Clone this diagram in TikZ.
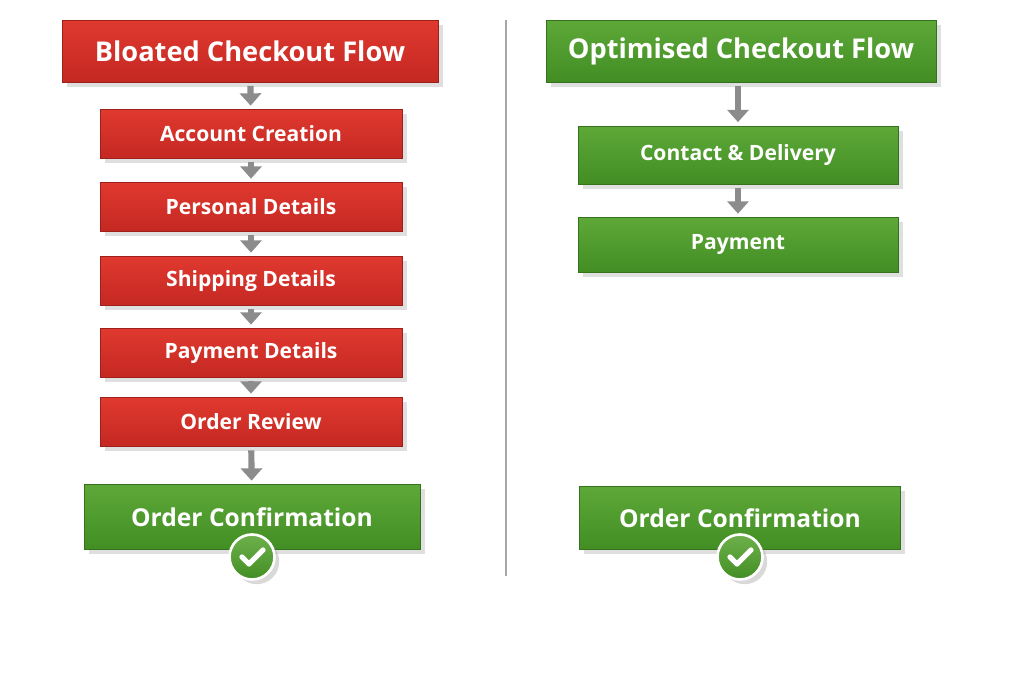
\documentclass[tikz,border=0pt]{standalone}
\usepackage{fontspec}
\setmainfont{Open Sans}
\usetikzlibrary{shapes, arrows.meta, positioning, calc, shadows}
\usepackage{xcolor}
\definecolor{redtop}{HTML}{E0392F}
\definecolor{redbot}{HTML}{C42822}
\definecolor{greentop}{HTML}{5EA838}
\definecolor{greenbot}{HTML}{428E24}
\definecolor{arrowgray}{HTML}{8C8C8C}

\begin{document}
\begin{tikzpicture}[x=0.02cm, y=-0.02cm,
        redbox/.style={rectangle, top color=redtop, bottom color=redbot, draw=redbot!80!black, text=white, font=\bfseries\fontsize{12}{14}\selectfont, minimum width=6.04cm, minimum height=0.98cm, drop shadow={opacity=0.25}},
        greenbox/.style={redbox, top color=greentop, bottom color=greenbot, draw=greenbot!80!black},
        titlebox/.style={minimum height=1.24cm, font=\bfseries\fontsize{15.5}{18}\selectfont},
        flow/.style={-{Triangle[length=7pt, width=12pt]}, line width=3.5pt, arrowgray, shorten <=2pt, shorten >=2pt},
        checkmark/.style={circle, draw=white, line width=1.5pt, top color=greentop!90!white, bottom color=greenbot, minimum size=0.9cm, drop shadow={opacity=0.3}}
    ]
        \useasboundingbox (0,0) rectangle (1024,683);
        % Left column
        \node [redbox, titlebox, minimum width=7.52cm] (bloated) at (250,51) {Bloated Checkout Flow};
        \node [redbox] (account) at (251,134) {Account Creation};
        \node [redbox] (personal) at (251,207) {Personal Details};
        \node [redbox] (shipping) at (251,281) {Shipping Details};
        \node [redbox] (paydetails) at (251,353) {Payment Details};
        \node [redbox] (review) at (251,422) {Order Review};
        \node [greenbox, titlebox, minimum width=6.72cm, minimum height=1.3cm, font=\bfseries\fontsize{14}{16}\selectfont] (confirmL) at (252,517) {Order Confirmation};
        \node [checkmark] (checkL) at (252,557) {};

        % Right column
        \node [greenbox, titlebox, minimum width=7.8cm] (optimised) at (741,51) {Optimised Checkout Flow};
        \node [greenbox, minimum width=6.4cm, minimum height=1.16cm] (contact) at (738,155) {Contact \& Delivery};
        \node [greenbox, minimum width=6.4cm, minimum height=1.1cm] (payment) at (738,245) {Payment};
        \node [greenbox, titlebox, minimum width=6.42cm, minimum height=1.26cm, font=\bfseries\fontsize{14}{16}\selectfont] (confirmR) at (740,518) {Order Confirmation};
        \node [checkmark] (checkR) at (740,557) {};

        % Divider
        \draw [gray!70, line width=1pt] (506,20) -- (506,576);

        % Arrows
        \draw [flow] (bloated) -- (account);
        \draw [flow] (account) -- (personal);
        \draw [flow] (personal) -- (shipping);
        \draw [flow] (shipping) -- (paydetails);
        \draw [flow] (paydetails) -- (review);
        \draw [flow] (review) -- (confirmL);
        \draw [flow] (optimised.south -| contact) -- (contact);
        \draw [flow] (contact) -- (payment);

        % Ticks
        \foreach \c in {checkL, checkR}
            \draw [white, line width=3pt, line cap=round, line join=round] ($(\c)+(-10,0)$) -- ($(\c)+(-3,7)$) -- ($(\c)+(11,-7)$);
    \end{tikzpicture}
\end{document}
